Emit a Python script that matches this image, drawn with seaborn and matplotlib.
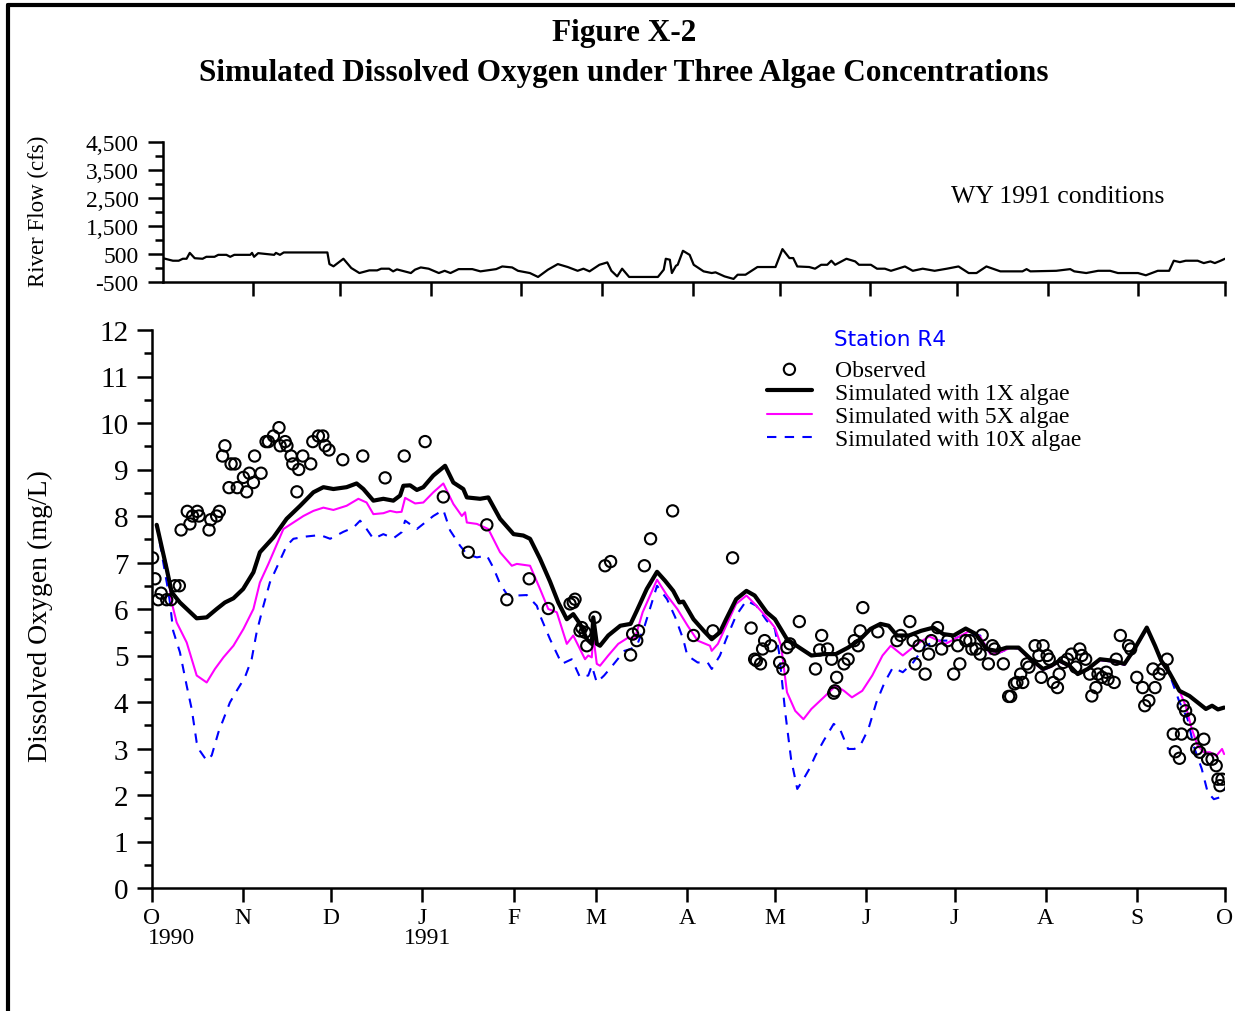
import numpy as np
import pandas as pd
import seaborn as sns
from matplotlib import pyplot as plt
from matplotlib.lines import Line2D
from matplotlib.ticker import FuncFormatter, MultipleLocator

START = pd.Timestamp("1990-10-01")
END = pd.Timestamp("1991-10-01")

MONTH_LABELS = ["O", "N", "D", "J", "F", "M", "A", "M", "J", "J", "A", "S", "O"]

# river flow (cfs), days after 1 Oct 1990
flow_day = [0, 3.4, 5.4, 6.8, 8.1, 9.2, 10.9, 13.6, 14.9, 17.7,
            19.0, 21.8, 23.1, 24.5, 30.0, 30.6, 31.3, 32.7, 38.2, 38.8,
            40.2, 41.5, 56.5, 57.2, 58.6, 62.0, 64.7, 67.5, 70.9, 73.6,
            75.0, 77.7, 79.1, 80.4, 85.2, 86.6, 88.6, 91.3, 94.8, 96.8,
            98.8, 101.6, 106.3, 109.1, 114.5, 116.6, 120.0, 122.0, 126.1, 128.9,
            132.3, 135.7, 139.1, 142.5, 144.5, 146.6, 150.0, 152.7, 154.1, 156.1,
            157.8, 160.2, 170.1, 172.1, 172.8, 174.2, 174.9, 176.3, 176.9, 178.7,
            181.0, 182.4, 185.8, 188.6, 189.9, 193.0, 196.1, 197.5, 200.2, 204.3,
            210.5, 212.9, 215.3, 216.6, 218.0, 222.1, 224.1, 226.2, 228.3, 229.7,
            231.0, 234.9, 237.9, 239.2, 243.3, 245.4, 248.1, 250.2, 255.0, 257.7,
            261.1, 265.2, 269.4, 273.4, 276.9, 279.6, 283.0, 287.8, 295.4, 296.8,
            298.1, 307.0, 311.8, 313.2, 317.3, 321.4, 325.5, 328.2, 335.1, 337.8,
            341.9, 345.8, 347.4, 349.5, 351.5, 355.6, 357.7, 360.0, 361.5, 363.5,
            365.0]
flow_cfs = [350, 260, 260, 330, 330, 540, 350, 330, 400, 400,
            470, 470, 400, 470, 470, 540, 400, 530, 470, 540,
            470, 555, 555, 140, 60, 330, 0, -180, -85, -85,
            -25, -25, -120, -50, -180, -60, 20, -25, -180, -100,
            -180, -40, -40, -120, -40, 55, 20, -100, -180, -320,
            -60, 140, 35, -100, -25, -120, 115, 200, -100, -300,
            -25, -320, -320, -60, 330, 295, -180, 80, 115, 615,
            470, 115, -120, -180, -155, -300, -390, -240, -240, 35,
            35, 675, 355, 355, 55, 35, -25, 115, 115, 260,
            115, 330, 235, 115, 115, -25, -25, -100, 55, -100,
            -25, -100, -25, 55, -180, -180, 55, -120, -120, -40,
            -120, -100, -40, -120, -180, -100, -100, -180, -180, -260,
            -100, -100, 260, 210, 260, 260, 175, 235, 175, 260,
            330]

# simulated DO with 1X algae (mg/L)
do1_day = [1.6, 5, 6.7, 9.5, 15.2, 18.6, 22, 24.8, 27.7, 31,
           34.5, 36.7, 41.3, 45.8, 50.4, 54.9, 58.3, 61.7, 66.2, 69.6,
           71.9, 75.3, 78.7, 82.1, 84.4, 85.5, 87.8, 90.1, 92.3, 95.7,
           99.7, 102.5, 105.9, 107.1, 111.6, 114.4, 118.4, 123, 126.3, 128.6,
           132, 135.4, 138.2, 141.1, 143.3, 145.6, 147.9, 149.6, 150.1, 151.3,
           152.4, 155.2, 159.3, 162.8, 164.9, 168.3, 171.8, 174.5, 177.3, 179.4,
           180.7, 184.2, 187.7, 190.4, 193.2, 195.3, 198.7, 202.2, 205, 209.1,
           211.9, 216, 220.2, 224.3, 228.5, 232.6, 236.8, 240.9, 244.4, 247.8,
           250.6, 253.4, 257.5, 261.6, 265.8, 269.2, 272.7, 276.8, 280.3, 283.8,
           287.2, 290.7, 294.8, 299, 303.1, 305.9, 308.7, 312.1, 314.9, 318.3,
           322.5, 326.6, 330.8, 334.2, 338.4, 341.2, 343.3, 346, 349.5, 352.9,
           355.7, 358.5, 360.6, 362.6, 364.7]
do1 = [7.81, 6.86, 6.36, 6.14, 5.80, 5.82, 6.0, 6.14, 6.23, 6.43,
       6.79, 7.22, 7.54, 7.94, 8.22, 8.51, 8.62, 8.58, 8.62, 8.70,
       8.58, 8.33, 8.37, 8.33, 8.44, 8.65, 8.66, 8.56, 8.62, 8.87,
       9.08, 8.72, 8.58, 8.40, 8.37, 8.40, 7.94, 7.61, 7.58, 7.51,
       7.08, 6.59, 6.14, 5.78, 5.89, 5.68, 5.35, 5.25, 5.82, 5.25,
       5.21, 5.43, 5.64, 5.68, 5.96, 6.43, 6.80, 6.61, 6.39, 6.14,
       6.16, 5.78, 5.53, 5.35, 5.50, 5.78, 6.21, 6.39, 6.29, 5.93,
       5.78, 5.35, 5.17, 5.0, 5.03, 5.03, 5.17, 5.35, 5.57, 5.68,
       5.64, 5.43, 5.43, 5.53, 5.60, 5.46, 5.43, 5.58, 5.46, 5.14,
       5.10, 5.17, 5.17, 4.92, 4.71, 4.78, 4.89, 4.78, 4.60, 4.71,
       4.92, 4.89, 4.82, 5.14, 5.60, 5.21, 4.89, 4.64, 4.24, 4.13,
       3.99, 3.85, 3.92, 3.84, 3.88]

# simulated DO with 5X algae
do5_day = [1.6, 5, 6.7, 8.4, 11.8, 15.2, 18.6, 21.4, 24.3, 27.7,
           31.1, 34.5, 36.7, 39.6, 44.7, 48.1, 51.5, 54.9, 58.3, 61.7,
           66.2, 70.2, 73, 75.3, 78.7, 81, 83.2, 84.9, 86.1, 89.5,
           92.3, 95.7, 99.1, 102.5, 105.4, 106.5, 107.1, 110.5, 114.4, 118.4,
           122.4, 124.1, 128.6, 132, 134.8, 137.7, 141.1, 143.3, 147.3, 148.4,
           149.6, 150.1, 151.3, 152.4, 155.2, 158.6, 162.1, 164.2, 166.9, 171.8,
           175.2, 178.7, 182.2, 185.6, 189.8, 190.4, 192.5, 195.3, 198.7, 202.2,
           205, 209.1, 211.9, 214, 216, 218.8, 221.6, 224.3, 228.5, 232.6,
           235.4, 238.1, 241.6, 245, 248.5, 251.3, 255.4, 260.3, 264.4, 269.9,
           274.1, 278.2, 281.7, 285.2, 288.6, 292.1, 294.8, 299,
           303.1, 305.9, 308.7, 312.1, 314.9, 318.3, 322.5, 326.6, 330.8, 334.2,
           338.4, 341.2, 343.3, 346, 348.8, 351.6, 353.7, 355.7, 357.8, 359.9,
           362, 364, 364.7]
do5 = [7.76, 6.93, 6.14, 5.71, 5.28, 4.57, 4.42, 4.71, 4.96, 5.21,
       5.57, 6.0, 6.57, 6.97, 7.72, 7.86, 8.0, 8.11, 8.18, 8.13,
       8.22, 8.37, 8.29, 8.04, 8.06, 8.11, 8.08, 8.09, 8.39, 8.27,
       8.29, 8.51, 8.70, 8.26, 8.0, 8.08, 7.86, 7.83, 7.72, 7.22,
       6.93, 6.97, 6.93, 6.43, 6.0, 5.93, 5.25, 5.43, 4.92, 5.0,
       4.96, 5.43, 4.82, 4.78, 5.0, 5.25, 5.39, 5.35, 5.93, 6.63,
       6.29, 6.0, 5.64, 5.32, 5.21, 5.10, 5.25, 5.64, 6.11, 6.29,
       6.11, 5.82, 5.60, 5.21, 4.21, 3.81, 3.63, 3.85, 4.10, 4.35,
       4.24, 4.10, 4.24, 4.57, 5.0, 5.21, 5.0, 5.25, 5.41, 5.25,
       5.39, 5.53, 5.41, 5.03, 5.07, 5.17, 5.15, 4.89,
       4.69, 4.76, 4.87, 4.76, 4.60, 4.70, 4.90, 4.87, 4.80, 5.12,
       5.58, 5.20, 4.87, 4.62, 4.35, 3.92, 3.42, 3.06, 2.92, 2.92,
       2.84, 2.99, 2.88]

# simulated DO with 10X algae
do10_day = [1.6, 5.6, 6.1, 7.2, 9.5, 11.8, 13.5, 15.2, 16.3, 18.6,
            20.3, 22.6, 24.3, 26.5, 28.8, 31.6, 33.9, 35.6, 37.9, 40.1,
            42.4, 45.8, 48.1, 52.6, 57.2, 60.6, 65.1, 68.5, 70.8, 73,
            75.3, 78.7, 82.1, 84.9, 86.1, 90.1, 92.9, 95.7, 99.1, 101.4,
            104.8, 107.1, 110.5, 113.9, 116.1, 118.4, 120.7, 124.1, 127.5, 130.9,
            132, 135.4, 139.4, 142.8, 145.6, 148.4, 149.6, 151.3, 153.8, 156.6,
            160.7, 162.8, 164.9, 167.6, 171.8, 175.2, 178, 180.7, 182.1, 185.6,
            189, 190.4, 193.2, 195.3, 198.7, 202.2, 205.6, 209.1, 211.9, 213.3,
            215.4, 217.4, 219.5, 221.6, 223.6, 225.7, 228.5, 231.9, 234, 236.8,
            238.9, 240.9, 243.7, 246.4, 249.2, 252, 255.4, 258.9, 263, 267.2,
            271.3, 276.8, 281.7, 285.2, 288.6, 292.1, 294.8, 299,
            303.1, 305.9, 308.7, 312.1, 314.9, 318.3, 322.5, 326.6, 330.8, 334.2,
            338.4, 341.2, 343.3, 346, 349.5, 352.3, 354.3, 357.1, 359.1, 361.2,
            363.3, 364.7]
do10 = [7.81, 6.36, 6.14, 5.53, 5.07, 4.35, 3.85, 3.13, 2.95, 2.74,
        2.85, 3.35, 3.63, 3.99, 4.24, 4.53, 4.92, 5.50, 6.07, 6.57,
        6.89, 7.36, 7.51, 7.56, 7.59, 7.51, 7.66, 7.75, 7.90, 7.72,
        7.51, 7.61, 7.52, 7.65, 7.90, 7.72, 7.86, 8.0, 8.13, 7.69,
        7.36, 7.18, 7.11, 7.15, 6.89, 6.54, 6.32, 6.29, 6.30, 6.07,
        5.86, 5.35, 4.82, 4.92, 4.53, 4.57, 4.78, 4.42, 4.57, 4.78,
        5.10, 5.14, 5.21, 5.64, 6.50, 6.21, 5.82, 5.35, 5.0, 4.85,
        4.85, 4.71, 5.0, 5.35, 5.86, 6.18, 6.07, 5.75, 5.57, 5.07,
        3.78, 2.77, 2.13, 2.34, 2.56, 2.85, 3.17, 3.53, 3.42, 2.99,
        2.99, 3.06, 3.42, 3.99, 4.42, 4.74, 4.64, 4.85, 5.21, 5.32,
        5.32, 5.46, 5.43, 5.03, 5.07, 5.17, 5.15, 4.89,
        4.69, 4.76, 4.87, 4.76, 4.60, 4.70, 4.90, 4.87, 4.80, 5.12,
        5.58, 5.20, 4.87, 4.62, 4.0, 3.63, 3.06, 2.56, 2.06, 1.91,
        1.95, 2.13]

# observed DO
obs_day = [0.2, 1.0, 2.1, 3.1, 5.0, 6.5, 7.8, 9.3, 9.9, 12.0,
           12.9, 13.8, 15.4, 16.0, 19.4, 20.0, 22.0, 22.9, 24.0, 24.8,
           26.2, 26.9, 28.2, 29.0, 31.1, 32.2, 33.1, 34.5, 34.9, 37.1,
           38.8, 39.6, 41.3, 43.2, 43.6, 45.3, 45.9, 47.3, 47.9, 49.3,
           49.9, 51.3, 54.0, 54.7, 56.6, 58.1, 58.9, 60.2, 64.9, 71.7,
           79.3, 85.8, 92.9, 99.1, 107.6, 113.9, 120.7, 128.3, 134.8, 142.2,
           143.3, 143.9, 145.6, 146.2, 147.3, 147.9, 150.7, 154.1, 156.0, 162.8,
           163.5, 164.9, 165.5, 167.5, 169.6, 177.1, 184.2, 190.8, 197.5, 203.8,
           205.0, 205.6, 207.0, 207.7, 208.4, 210.5, 213.5, 214.6, 216.0, 217.0,
           220.2, 225.7, 227.1, 227.8, 229.8, 231.2, 231.9, 232.3, 232.9, 235.4,
           236.8, 238.9, 240.2, 240.9, 241.8, 246.9, 253.4, 254.7, 257.8, 258.9,
           259.6, 260.9, 263.0, 264.2, 265.1, 267.2, 268.6, 270.7, 272.7, 274.1,
           274.8, 276.8, 278.2, 278.9, 280.3, 281.7, 282.4, 284.5, 285.9, 286.6,
           289.6, 291.4, 292.1, 293.4, 294.2, 295.5, 296.2, 297.6, 298.3, 300.4,
           301.7, 302.5, 303.1, 304.5, 305.2, 306.6, 308.0, 308.6, 310.0, 311.4,
           312.8, 314.2, 315.6, 316.3, 317.6, 319.0, 319.7, 321.1, 321.8, 323.2,
           324.6, 325.2, 327.3, 328.0, 329.4, 332.2, 332.9, 335.0, 337.0, 337.7,
           339.1, 340.5, 341.2, 342.6, 343.9, 345.3, 347.4, 348.1, 349.5, 350.2,
           350.8, 351.6, 352.9, 354.0, 355.4, 356.4, 357.8, 359.1, 360.6, 362.0,
           362.6, 363.3, 364.0]
obs_do = [7.10, 6.65, 6.20, 6.34, 6.20, 6.20, 6.50, 6.50, 7.70, 8.10,
          7.83, 8.00, 8.10, 8.00, 7.70, 7.92, 8.00, 8.10, 9.29, 9.51,
          8.61, 9.12, 9.12, 8.61, 8.83, 8.52, 8.92, 8.72, 9.29, 8.92,
          9.60, 9.60, 9.72, 9.90, 9.51, 9.60, 9.51, 9.29, 9.12, 8.52,
          9.00, 9.29, 9.12, 9.60, 9.72, 9.72, 9.51, 9.42, 9.21, 9.29,
          8.82, 9.29, 9.60, 8.41, 7.22, 7.81, 6.20, 6.65, 6.01, 6.11,
          6.14, 6.21, 5.53, 5.60, 5.50, 5.21, 5.82, 6.93, 7.02, 5.01,
          5.46, 5.32, 5.53, 6.93, 7.51, 8.11, 5.43, 5.53, 7.10, 5.59,
          4.92, 4.89, 4.82, 5.14, 5.32, 5.21, 4.85, 4.71, 5.17, 5.25,
          5.73, 4.71, 5.12, 5.43, 5.14, 4.92, 4.19, 4.24, 4.53, 4.82,
          4.92, 5.32, 5.21, 5.53, 6.03, 5.51, 5.32, 5.43, 5.73, 5.32,
          4.82, 5.21, 4.60, 5.03, 5.32, 5.60, 5.14, 5.32, 4.60, 5.21,
          4.82, 5.32, 5.32, 5.14, 5.14, 5.03, 5.44, 4.82, 5.21, 5.14,
          4.82, 4.12, 4.12, 4.39, 4.42, 4.60, 4.42, 4.82, 4.75, 5.21,
          5.00, 4.53, 5.21, 5.00, 4.92, 4.42, 4.31, 4.60, 4.85, 4.92,
          5.03, 4.75, 5.14, 5.00, 4.92, 4.60, 4.13, 4.31, 4.60, 4.53,
          4.64, 4.49, 4.42, 4.92, 5.43, 5.21, 5.14, 4.53, 4.31, 3.92,
          4.03, 4.71, 4.31, 4.60, 4.71, 4.92, 3.31, 2.93, 2.79, 3.31,
          3.92, 3.81, 3.63, 3.31, 2.99, 2.92, 3.20, 2.77, 2.77, 2.63,
          2.34, 2.20, 2.34]


def to_dates(days):
    return START + pd.to_timedelta(np.asarray(days, dtype=float), unit="D")


def px(x, y):
    # figure fraction from pixel position (origin top-left)
    return x / 1235, 1 - y / 1012


def style_axis(ax, labelsize, major_len, minor_len):
    sns.despine(ax=ax)
    for side in ["left", "bottom"]:
        ax.spines[side].set_linewidth(1.8)
        ax.spines[side].set_color("black")
    ax.tick_params(axis="both", which="major", direction="out", width=1.8,
                   length=major_len, labelsize=labelsize, colors="black")
    ax.tick_params(axis="y", which="minor", direction="out", width=1.8,
                   length=minor_len, colors="black")


def main():
    sns.set_theme(style="ticks")
    plt.rcParams["font.family"] = ["Liberation Serif", "DejaVu Serif"]
    plt.rcParams["text.color"] = "black"

    fig = plt.figure(figsize=(12.35, 10.12), dpi=100)
    months = pd.date_range(START, END, freq="MS")

    # --- river flow panel
    l, b = px(163, 283)
    r, t = px(1225, 143)
    ax_f = fig.add_axes([l, b, r - l, t - b])
    sns.lineplot(x=to_dates(flow_day), y=flow_cfs, ax=ax_f, color="black",
                 linewidth=1.6, estimator=None, sort=False)
    ax_f.set_xlim(START, END)
    ax_f.set_ylim(-500, 4500)
    ax_f.set_xticks(months[1:])
    ax_f.set_xticklabels([])
    ax_f.yaxis.set_major_locator(MultipleLocator(1000, offset=500))
    ax_f.yaxis.set_minor_locator(MultipleLocator(1000))
    ax_f.yaxis.set_major_formatter(FuncFormatter(lambda v, p: f"{int(round(v)):,}"))
    ax_f.set_xlabel("")
    ax_f.set_ylabel("")
    style_axis(ax_f, 17, 10.5, 6)
    ax_f.tick_params(axis="x", length=10, pad=2)
    ax_f.tick_params(axis="y", pad=7)
    ax_f.text(0.842, 0.615, "WY 1991 conditions", transform=ax_f.transAxes,
              ha="center", va="center", fontsize=18.5)

    # --- dissolved oxygen panel
    l, b = px(152, 889)
    r, t = px(1225, 331)
    ax = fig.add_axes([l, b, r - l, t - b])

    sns.scatterplot(x=to_dates(obs_day), y=obs_do, ax=ax, marker="o", s=66,
                    color="black", facecolor="none", edgecolor="black",
                    linewidth=1.5, zorder=3)
    h_obs = ax.collections[-1]
    sns.lineplot(x=to_dates(do10_day), y=do10, ax=ax, color="#0000FF",
                 linewidth=1.5, linestyle=(0, (4.5, 4)), estimator=None, sort=False)
    h10 = ax.lines[-1]
    sns.lineplot(x=to_dates(do5_day), y=do5, ax=ax, color="#FF00FF",
                 linewidth=1.5, estimator=None, sort=False)
    h5 = ax.lines[-1]
    sns.lineplot(x=to_dates(do1_day), y=do1, ax=ax, color="black",
                 linewidth=3.0, estimator=None, sort=False)
    h1 = ax.lines[-1]

    ax.set_xlim(START, END)
    ax.set_ylim(0, 12)
    ax.set_xticks(months)
    ax.set_xticklabels(MONTH_LABELS)
    ax.yaxis.set_major_locator(MultipleLocator(1))
    ax.yaxis.set_minor_locator(MultipleLocator(0.5))
    ax.set_xlabel("")
    ax.set_ylabel("")
    style_axis(ax, 21, 11, 6)
    ax.tick_params(axis="x", labelsize=17, length=10, pad=4)
    ax.tick_params(axis="y", pad=6)

    for day, yr in [(-1.5, "1990"), (85.7, "1991")]:
        ax.text(START + pd.Timedelta(days=day), -1.07, yr, ha="left",
                va="center", fontsize=17, clip_on=False)

    ax.legend([h_obs, h1, h5, h10],
              ["Observed", "Simulated with 1X algae",
               "Simulated with 5X algae", "Simulated with 10X algae"],
              loc="upper left", bbox_to_anchor=px(767, 360),
              bbox_transform=fig.transFigure, frameon=False,
              borderpad=0, borderaxespad=0, fontsize=17,
              handlelength=1.9, handletextpad=1.0, labelspacing=0.07,
              scatterpoints=1)
    fig.text(*px(834, 340), "Station R4", color="#0000FF", fontsize=15.5,
             family=["DejaVu Sans"], ha="left", va="center")

    # titles and axis labels
    fig.text(*px(624, 33), "Figure X-2", ha="center", va="center",
             fontsize=22.5, fontweight="bold")
    fig.text(*px(624, 73),
             "Simulated Dissolved Oxygen under Three Algae Concentrations",
             ha="center", va="center", fontsize=22.5, fontweight="bold")
    fig.text(*px(38, 211), "River Flow (cfs)", rotation=90, ha="center",
             va="center", fontsize=16.5)
    fig.text(*px(40, 616), "Dissolved Oxygen (mg/L)", rotation=90,
             ha="center", va="center", fontsize=20)

    # page frame (top and left edges)
    fig.add_artist(Line2D([8 / 1235, 8 / 1235], [0, 1 - 6 / 1012],
                          transform=fig.transFigure, color="black", lw=3))
    fig.add_artist(Line2D([8 / 1235, 1], [1 - 6 / 1012, 1 - 6 / 1012],
                          transform=fig.transFigure, color="black", lw=3))

    fig.savefig("out.png", dpi=100, facecolor="white")


if __name__ == "__main__":
    main()
